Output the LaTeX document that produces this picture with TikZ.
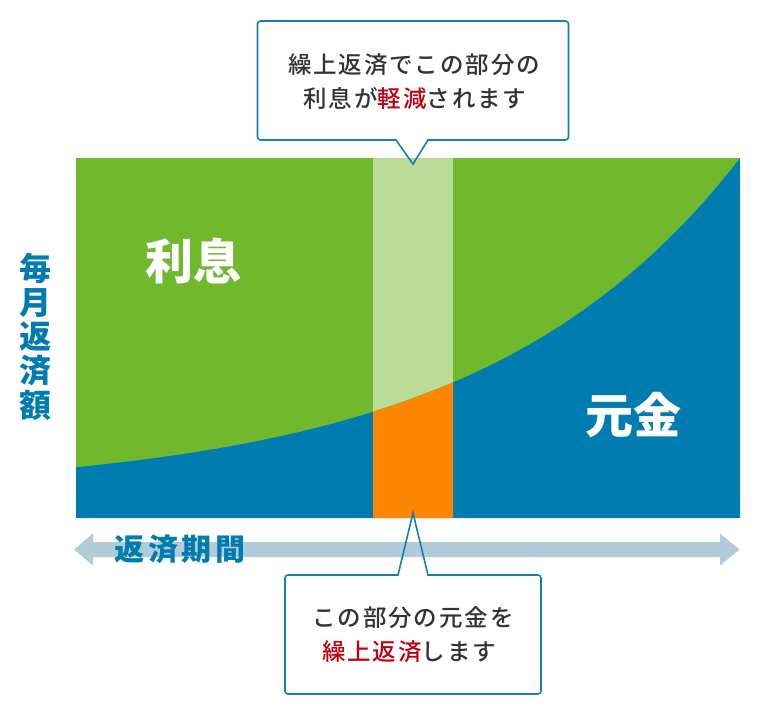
\documentclass[tikz,border=0pt]{standalone}
\usepackage{fontspec}
\setmainfont{Noto Sans CJK JP}
\newfontfamily\jpsp[LetterSpace=13]{Noto Sans CJK JP}
\newfontfamily\jpmed[LetterSpace=8]{Noto Sans CJK JP Medium}
\definecolor{cgreen}{RGB}{112,184,44}
\definecolor{cblue}{RGB}{0,124,176}
\definecolor{clight}{RGB}{184,220,150}
\definecolor{corange}{RGB}{255,134,0}
\definecolor{carrow}{RGB}{177,203,217}
\definecolor{cline}{RGB}{20,128,178}
\definecolor{cred}{RGB}{192,0,16}
\definecolor{cdark}{RGB}{51,51,51}
\begin{document}
\begin{tikzpicture}[x=1pt,y=-1pt,
  callout/.style={draw=cline,line width=1.6pt,line join=miter},
  calltext/.style={text=cdark,align=center,inner sep=0pt,font=\jpmed\fontsize{23.5}{33.5}\selectfont},
  biglabel/.style={text=white,inner sep=0pt,font=\bfseries\fontsize{48}{48}\selectfont},
  axislabel/.style={text=cblue,inner sep=0pt,align=center}]
\useasboundingbox (0,0) rectangle (760,716);
% chart
\fill[cgreen] (76,158) rectangle (740,518);
\fill[clight] (373,158) rectangle (453,518);
\fill[cblue] plot[domain=76:740,samples=120] ({\x},{493-25.8*exp(0.00386*(\x-76))}) -- (740,518) -- (76,518) -- cycle;
\fill[corange] plot[domain=373:453,samples=30] ({\x},{493-25.8*exp(0.00386*(\x-76))}) -- (453,518) -- (373,518) -- cycle;
% period arrow
\coordinate (aL) at (74,549.5);
\coordinate (aR) at (739.5,549.5);
\fill[carrow] (aL) -- (93,533.5) -- (93,542) -- (720,542) -- (720,533.5) -- (aR) -- (720,565.5) -- (720,557) -- (93,557) -- (93,565.5) -- cycle;
% labels
\node[biglabel] (risoku) at (193.5,261) {利息};
\node[biglabel] (ganking) at (633,415.5) {元金};
\node[axislabel,font=\bfseries\fontsize{32}{34.25}\selectfont] (hengaku) at (35,336.5) {毎\\月\\返\\済\\額};
\node[axislabel,font=\bfseries\jpsp\fontsize{30}{30}\selectfont] (kikan) at (180,549.5) {返済期間};
% top callout
\coordinate (tipT) at (413,164);
\draw[callout] (tipT) -- (396,140) [rounded corners=3pt] -- (257.5,140) -- (257.5,21) -- (568.5,21) -- (568.5,140) [sharp corners] -- (428,140) -- cycle;
\node[calltext] (topA) at (414,65) {繰上返済でこの部分の};
\node[calltext] (topB) at (415,98) {利息が{\color{cred}軽減}されます};
% bottom callout
\coordinate (tipB) at (413,513);
\draw[callout] (tipB) -- (428,575) [rounded corners=3pt] -- (541,575) -- (541,694) -- (285,694) -- (285,575) [sharp corners] -- (398,575) -- cycle;
\node[calltext] (botA) at (413,618) {この部分の元金を};
\node[calltext] (botB) at (409,652) {{\color{cred}繰上返済}します};
\end{tikzpicture}
\end{document}
